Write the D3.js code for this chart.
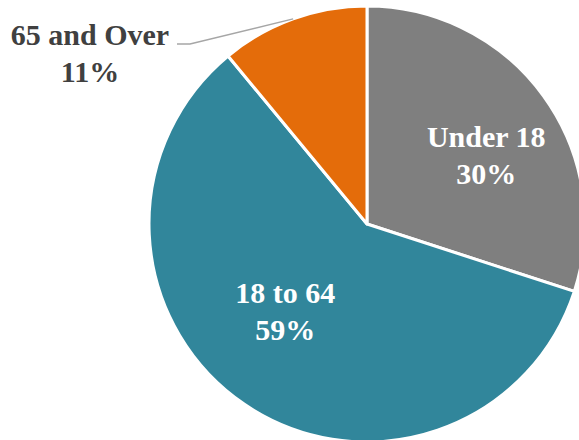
<!DOCTYPE html>
<html>
<head>
<meta charset="utf-8">
<script src="https://cdn.jsdelivr.net/npm/d3@7"></script>
<style>
  html, body { margin: 0; padding: 0; background: #fff; overflow: hidden; }
  svg { display: block; }
</style>
</head>
<body>
<svg id="chart" width="579" height="440"></svg>
<script>
// Age groups and their share of the population (%)
const categories = ["Under 18", "18 to 64", "65 and Over"];
const shares = [30, 59, 11];
const labels = ["30%", "59%", "11%"];
const colors = ["#7f7f7f", "#31869b", "#e46c0a"];

const width = 579, height = 440;
const cx = 367, cy = 224, radius = 218;
const font = "'Liberation Serif', 'DejaVu Serif', serif";
const fontSize = 30;
const lineGap = 37;

const svg = d3.select("#chart");
const g = svg.append("g").attr("transform", `translate(${cx},${cy})`);

const pie = d3.pie().sort(null).value(d => d.value);
const arcs = pie(categories.map((c, i) => ({ name: c, value: shares[i], label: labels[i], color: colors[i] })));

const arc = d3.arc().innerRadius(0).outerRadius(radius);

g.selectAll("path.slice")
  .data(arcs)
  .join("path")
  .attr("class", "slice")
  .attr("d", arc)
  .attr("fill", d => d.data.color)
  .attr("stroke", "#fff")
  .attr("stroke-width", 3)
  .attr("stroke-linejoin", "round");

// Inside labels: placed on a label arc, nudged slightly toward open space
const labelArc = d3.arc().innerRadius(140).outerRadius(140);
const nudge = { "Under 18": [6, 9], "18 to 64": [-3, -33] };

arcs.filter(d => d.data.name !== "65 and Over").forEach(d => {
  const [x, y] = labelArc.centroid(d);
  const [nx, ny] = nudge[d.data.name];
  const t = g.append("text")
    .attr("text-anchor", "middle")
    .attr("font-family", font)
    .attr("font-weight", "bold")
    .attr("font-size", fontSize)
    .attr("fill", "#fff");
  t.append("tspan").attr("x", x + nx).attr("y", y + ny - 4).text(d.data.name);
  t.append("tspan").attr("x", x + nx).attr("y", y + ny - 4 + lineGap).text(d.data.label);
});

// Outside label with leader line for the smallest slice
const small = arcs.find(d => d.data.name === "65 and Over");
const mid = (small.startAngle + small.endAngle) / 2;
const p0 = [Math.sin(mid) * radius, -Math.cos(mid) * radius];
const elbow = [190 - cx, 44 - cy];
const end = [177 - cx, 44 - cy];

g.append("polyline")
  .attr("points", [p0, elbow, end].map(p => p.join(",")).join(" "))
  .attr("fill", "none")
  .attr("stroke", "#a6a6a6")
  .attr("stroke-width", 1.5);

const outer = g.append("text")
  .attr("text-anchor", "middle")
  .attr("font-family", font)
  .attr("font-weight", "bold")
  .attr("font-size", fontSize)
  .attr("fill", "#404040");
outer.append("tspan").attr("x", 90 - cx).attr("y", 45 - cy).text(small.data.name);
outer.append("tspan").attr("x", 90 - cx).attr("y", 45 - cy + lineGap).text(small.data.label);
</script>
</body>
</html>
